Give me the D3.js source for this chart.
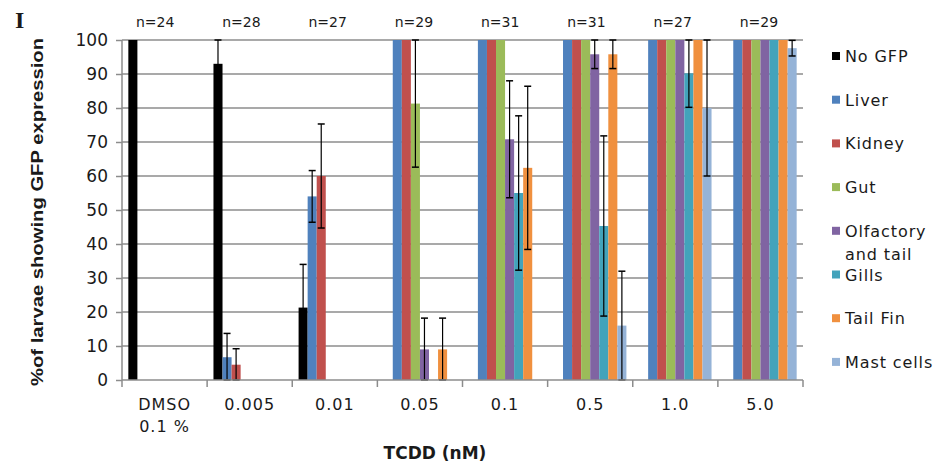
<!DOCTYPE html>
<html>
<head>
<meta charset="utf-8">
<script src="https://cdn.jsdelivr.net/npm/d3@7"></script>
<style>
	body { margin: 0; background: #fff; }
	text { font-family: 'DejaVu Sans', Verdana, sans-serif; fill: #1a1a1a; }
	.axis path, .axis line { stroke: #8c8c8c; stroke-width: 1.5; }
	.grid line { stroke: #8c8c8c; stroke-width: 1.5; }
</style>
</head>
<body>
<div id="chart"></div>
<script>
var categories = ['DMSO|0.1 %', '0.005', '0.01', '0.05', '0.1', '0.5', '1.0', '5.0'];
var nLabels = ['n=24', 'n=28', 'n=27', 'n=29', 'n=31', 'n=31', 'n=27', 'n=29'];
var seriesNames = ['No GFP', 'Liver', 'Kidney', 'Gut', 'Olfactory|and tail', 'Gills', 'Tail Fin', 'Mast cells'];
var yTicks = [0, 10, 20, 30, 40, 50, 60, 70, 80, 90, 100];

// % of larvae per series, one value per TCDD dose
var noGfp     = [100, 93, 21.3, 0, 0, 0, 0, 0];
var liver     = [0, 6.7, 54, 100, 100, 100, 100, 100];
var kidney    = [0, 4.5, 60, 100, 100, 100, 100, 100];
var gut       = [0, 0, 0, 81.3, 100, 100, 100, 100];
var olfactory = [0, 0, 0, 9, 70.8, 95.8, 100, 100];
var gills     = [0, 0, 0, 0, 55, 45.3, 90.2, 100];
var tailFin   = [0, 0, 0, 9, 62.4, 95.8, 100, 100];
var mastCells = [0, 0, 0, 0, 0, 16, 80, 97.6];

// error bar half-lengths
var noGfpErr     = [0, 7, 12.7, 0, 0, 0, 0, 0];
var liverErr     = [0, 7, 7.6, 0, 0, 0, 0, 0];
var kidneyErr    = [0, 4.7, 15.3, 0, 0, 0, 0, 0];
var gutErr       = [0, 0, 0, 18.7, 0, 0, 0, 0];
var olfactoryErr = [0, 0, 0, 9.2, 17.2, 4.2, 0, 0];
var gillsErr     = [0, 0, 0, 0, 22.7, 26.5, 10, 0];
var tailFinErr   = [0, 0, 0, 9.2, 24, 4.2, 0, 0];
var mastCellsErr = [0, 0, 0, 0, 0, 16, 20, 2.3];

var values = [noGfp, liver, kidney, gut, olfactory, gills, tailFin, mastCells];
var errors = [noGfpErr, liverErr, kidneyErr, gutErr, olfactoryErr, gillsErr, tailFinErr, mastCellsErr];
var colors = ['#000000', '#4f81bd', '#c0504d', '#9bbb59', '#8064a2', '#43a3bb', '#f0903f', '#95b3d7'];

var margin = { top: 40, right: 142, bottom: 83, left: 122 };
var W = 945, H = 463;
var width = W - margin.left - margin.right;
var height = H - margin.top - margin.bottom;

var svg = d3.select('#chart').append('svg')
	.attr('width', W)
	.attr('height', H);

var g = svg.append('g')
	.attr('transform', 'translate(' + margin.left + ',' + margin.top + ')');

var x0 = d3.scaleBand().domain(d3.range(categories.length)).range([0, width]);
var x1 = d3.scaleBand().domain(d3.range(seriesNames.length)).range([0, x0.bandwidth()]).paddingOuter(0.7);
var y = d3.scaleLinear().domain([0, 100]).range([height, 0]);

// gridlines
g.append('g')
	.attr('class', 'grid')
	.selectAll('line')
	.data(yTicks.slice(1))
	.enter().append('line')
	.attr('x1', 0)
	.attr('x2', width)
	.attr('y1', function(d) { return y(d); })
	.attr('y2', function(d) { return y(d); });

// bars
var groups = g.selectAll('.cat')
	.data(categories)
	.enter().append('g')
	.attr('class', 'cat')
	.attr('transform', function(d, i) { return 'translate(' + x0(i) + ',0)'; });

groups.each(function(c, ci) {
	var grp = d3.select(this);
	seriesNames.forEach(function(s, si) {
		var v = values[si][ci];
		if (v > 0) {
			grp.append('rect')
				.attr('x', x1(si))
				.attr('width', x1.bandwidth())
				.attr('y', y(v))
				.attr('height', y(0) - y(v))
				.attr('fill', colors[si]);
		}
	});
	// error bars drawn on top of all bars
	seriesNames.forEach(function(s, si) {
		var v = values[si][ci], e = errors[si][ci];
		if (e > 0) {
			var cx = x1(si) + x1.bandwidth() / 2;
			var lo = y(Math.max(0, v - e)), hi = y(Math.min(100, v + e));
			grp.append('line').attr('x1', cx).attr('x2', cx).attr('y1', lo).attr('y2', hi)
				.attr('stroke', '#000').attr('stroke-width', 1.2);
			[lo, hi].forEach(function(yy) {
				grp.append('line').attr('x1', cx - 3.5).attr('x2', cx + 3.5).attr('y1', yy).attr('y2', yy)
					.attr('stroke', '#000').attr('stroke-width', 1.5);
			});
		}
	});
});

// y axis
var yAxis = d3.axisLeft(y).tickValues(yTicks).tickSize(6).tickPadding(8);
var yg = g.append('g').attr('class', 'y axis').call(yAxis);
yg.select('.domain').attr('d', 'M0,' + (height + 7) + 'V0');
yg.selectAll('text').style('font-size', '17px').attr('fill', '#222');

// x axis
var xg = g.append('g').attr('class', 'x axis').attr('transform', 'translate(0,' + height + ')');
xg.append('line').attr('x1', 0).attr('x2', width).attr('y1', 0).attr('y2', 0);
xg.selectAll('.tk')
	.data(d3.range(1, categories.length + 1))
	.enter().append('line')
	.attr('class', 'tk')
	.attr('x1', function(d) { return d === categories.length ? width : x0(d); })
	.attr('x2', function(d) { return d === categories.length ? width : x0(d); })
	.attr('y1', 0)
	.attr('y2', 7);

xg.selectAll('.lbl')
	.data(categories)
	.enter().append('text')
	.attr('class', 'lbl')
	.attr('text-anchor', 'middle')
	.style('font-size', '16px')
	.style('letter-spacing', '1px')
	.each(function(d, i) {
		var t = d3.select(this);
		d.split('|').forEach(function(line, li) {
			t.append('tspan')
				.attr('x', x0(i) + x0.bandwidth() / 2)
				.attr('y', 30 + li * 22)
				.text(line);
		});
	});

// n labels (placed slightly wider apart than the categories)
var nx = d3.scaleBand().domain(d3.range(nLabels.length)).range([-10, width - 1]);
g.selectAll('.nlbl')
	.data(nLabels)
	.enter().append('text')
	.attr('class', 'nlbl')
	.attr('text-anchor', 'middle')
	.attr('x', function(d, i) { return nx(i) + nx.bandwidth() / 2; })
	.attr('y', -13)
	.style('font-size', '14px')
	.text(function(d) { return d; });

// axis titles
svg.append('text')
	.attr('x', 435)
	.attr('y', 459)
	.attr('text-anchor', 'middle')
	.style('font-size', '17px')
	.style('font-weight', 'bold')
	.text('TCDD (nM)');

svg.append('text')
	.attr('transform', 'translate(43,212) rotate(-90)')
	.attr('text-anchor', 'middle')
	.attr('textLength', 348)
	.attr('lengthAdjust', 'spacingAndGlyphs')
	.style('font-family', "'Liberation Sans', Arial, sans-serif")
	.style('font-size', '17px')
	.style('font-weight', 'bold')
	.text('%of larvae showing GFP expression');

// panel letter
svg.append('text')
	.attr('x', 15)
	.attr('y', 28)
	.style('font-family', "'Liberation Serif', 'Times New Roman', serif")
	.style('font-size', '24px')
	.style('font-weight', 'bold')
	.text('I');

// legend
var legend = svg.append('g').attr('transform', 'translate(832,56)');
seriesNames.forEach(function(s, i) {
	var item = legend.append('g').attr('transform', 'translate(0,' + (i * 43.7) + ')');
	item.append('rect')
		.attr('x', 0).attr('y', -4)
		.attr('width', 8).attr('height', 8)
		.attr('fill', colors[i]);
	var t = item.append('text')
		.style('font-size', '16px')
		.style('letter-spacing', '0.9px');
	s.split('|').forEach(function(line, li) {
		t.append('tspan')
			.attr('x', 13)
			.attr('y', 6 + li * 23)
			.text(line);
	});
});
</script>
</body>
</html>
